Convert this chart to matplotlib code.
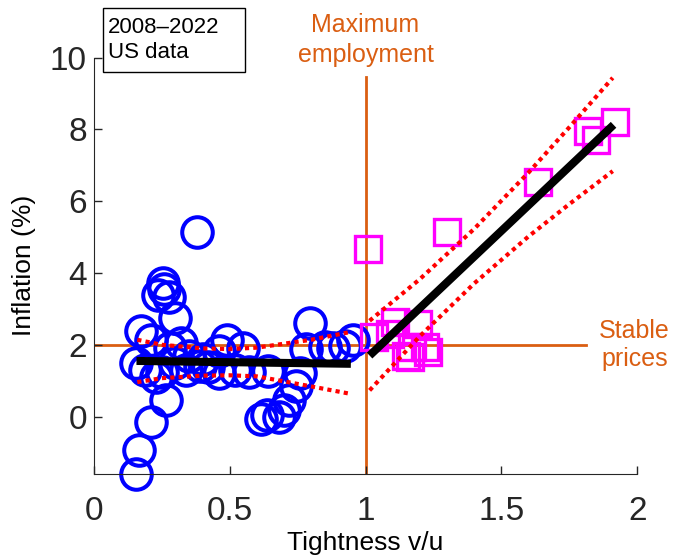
import matplotlib.pyplot as plt
from matplotlib.patches import Rectangle

plt.rcParams['font.family'] = ['Liberation Sans', 'DejaVu Sans']

# 2008-2020: v/u below 1 (blue circles)
circ_x = [0.154, 0.167, 0.21, 0.265, 0.38, 0.256, 0.237, 0.276, 0.26, 0.30,
          0.172, 0.21, 0.154, 0.19, 0.23, 0.25, 0.28, 0.32, 0.35, 0.30,
          0.34, 0.39, 0.42, 0.46, 0.52, 0.57, 0.64, 0.49, 0.55, 0.46,
          0.40, 0.795, 0.78, 0.85, 0.925, 0.955, 0.88, 0.76, 0.745, 0.72,
          0.70, 0.636, 0.617, 0.68]
circ_y = [-1.6, -0.93, -0.16, 0.45, 5.13, 3.72, 3.38, 3.33, 3.55, 2.75,
          2.38, 2.12, 1.5, 1.3, 1.1, 1.25, 1.9, 2.05, 1.7, 1.5,
          1.3, 1.4, 1.38, 1.2, 1.3, 1.25, 1.28, 2.12, 1.9, 1.84,
          1.6, 2.6, 1.88, 1.94, 1.98, 2.12, 1.9, 1.2, 0.85, 0.45,
          0.17, 0.05, -0.06, 0.0]

# 2021-2022: v/u above 1 (magenta squares)
sq_x = [1.01, 1.30, 1.636, 1.918, 1.82, 1.85, 1.03, 1.09, 1.109, 1.195,
        1.17, 1.22, 1.165, 1.23, 1.15]
sq_y = [4.68, 5.15, 6.54, 8.22, 7.95, 7.71, 2.21, 2.31, 2.63, 2.59,
        1.94, 1.94, 1.66, 1.80, 1.70]

# fitted lines and confidence bands
fit_lo_x = [0.157, 0.946]
fit_lo_y = [1.55, 1.47]
band_lo_x = [0.16, 0.25, 0.4, 0.5, 0.6, 0.7, 0.8, 0.94]
band_lo_up = [2.14, 2.0, 1.9, 1.88, 1.92, 2.03, 2.14, 2.35]
band_lo_dn = [0.96, 1.07, 1.14, 1.15, 1.12, 0.98, 0.84, 0.64]

fit_hi_x = [1.015, 1.913]
fit_hi_y = [1.70, 8.13]
band_hi_x = [1.015, 1.2, 1.4, 1.6, 1.75, 1.91]
band_hi_up = [2.67, 3.83, 5.23, 6.80, 8.06, 9.44]
band_hi_dn = [0.73, 2.24, 3.71, 5.02, 5.92, 6.84]

orange = '#DA5E12'
grey = '#262626'

fig = plt.figure(figsize=(6.75, 5.55), dpi=100)
ax = fig.add_axes([0.139, 0.146, 0.805, 0.75])

ax.plot([1, 1], [-1.6, 9.45], color=orange, lw=2, zorder=1)
ax.plot([0, 1.81], [2, 2], color=orange, lw=2, zorder=1)

ax.plot(circ_x, circ_y, 'o', ms=22, mfc='none', mec='blue', mew=2.9,
        zorder=2, clip_on=False)
ax.plot(sq_x, sq_y, 's', ms=19, mfc='none', mec='magenta', mew=2.4,
        zorder=2, clip_on=False)

for bx, by in [(band_lo_x, band_lo_up), (band_lo_x, band_lo_dn),
               (band_hi_x, band_hi_up), (band_hi_x, band_hi_dn)]:
    ax.plot(bx, by, color='red', lw=3.0, linestyle=(0, (1, 1)),
            dash_capstyle='butt', zorder=3)
ax.plot(fit_lo_x, fit_lo_y, color='black', lw=5.8, solid_capstyle='butt', zorder=4)
ax.plot(fit_hi_x, fit_hi_y, color='black', lw=5.8, solid_capstyle='butt', zorder=4)

ax.set_xlim(0, 2)
ax.set_ylim(-1.6, 10)
ax.set_xticks([0, 0.5, 1, 1.5, 2])
ax.set_xticklabels(['0', '0.5', '1', '1.5', '2'])
ax.set_yticks([0, 2, 4, 6, 8, 10])
ax.tick_params(direction='in', length=6, width=1, labelsize=24, colors=grey)
ax.tick_params(axis='x', pad=16)
ax.tick_params(axis='y', pad=5)
for side in ['top', 'right']:
    ax.spines[side].set_visible(False)
for side in ['left', 'bottom']:
    ax.spines[side].set_color(grey)
ax.set_xlabel('Tightness v/u', fontsize=19, color='black', labelpad=3)
ax.set_ylabel('Inflation (%)', fontsize=19, color='black', labelpad=10)

ax.text(1.0, 10.5, 'Maximum\nemployment', color=orange, fontsize=18,
        ha='center', va='center', clip_on=False, linespacing=1.3)
ax.text(1.99, 2.0, 'Stable\nprices', color=orange, fontsize=18,
        ha='center', va='center', clip_on=False, linespacing=1.2)

fig.patches.append(Rectangle((0.1526, 0.870), 0.210, 0.1153, transform=fig.transFigure,
                             fill=False, edgecolor='black', lw=1))
fig.text(0.16, 0.9277, '2008\u20132022\nUS data', fontsize=16, ha='left', va='center',
         linespacing=1.25)

fig.savefig('out.png', dpi=100)
